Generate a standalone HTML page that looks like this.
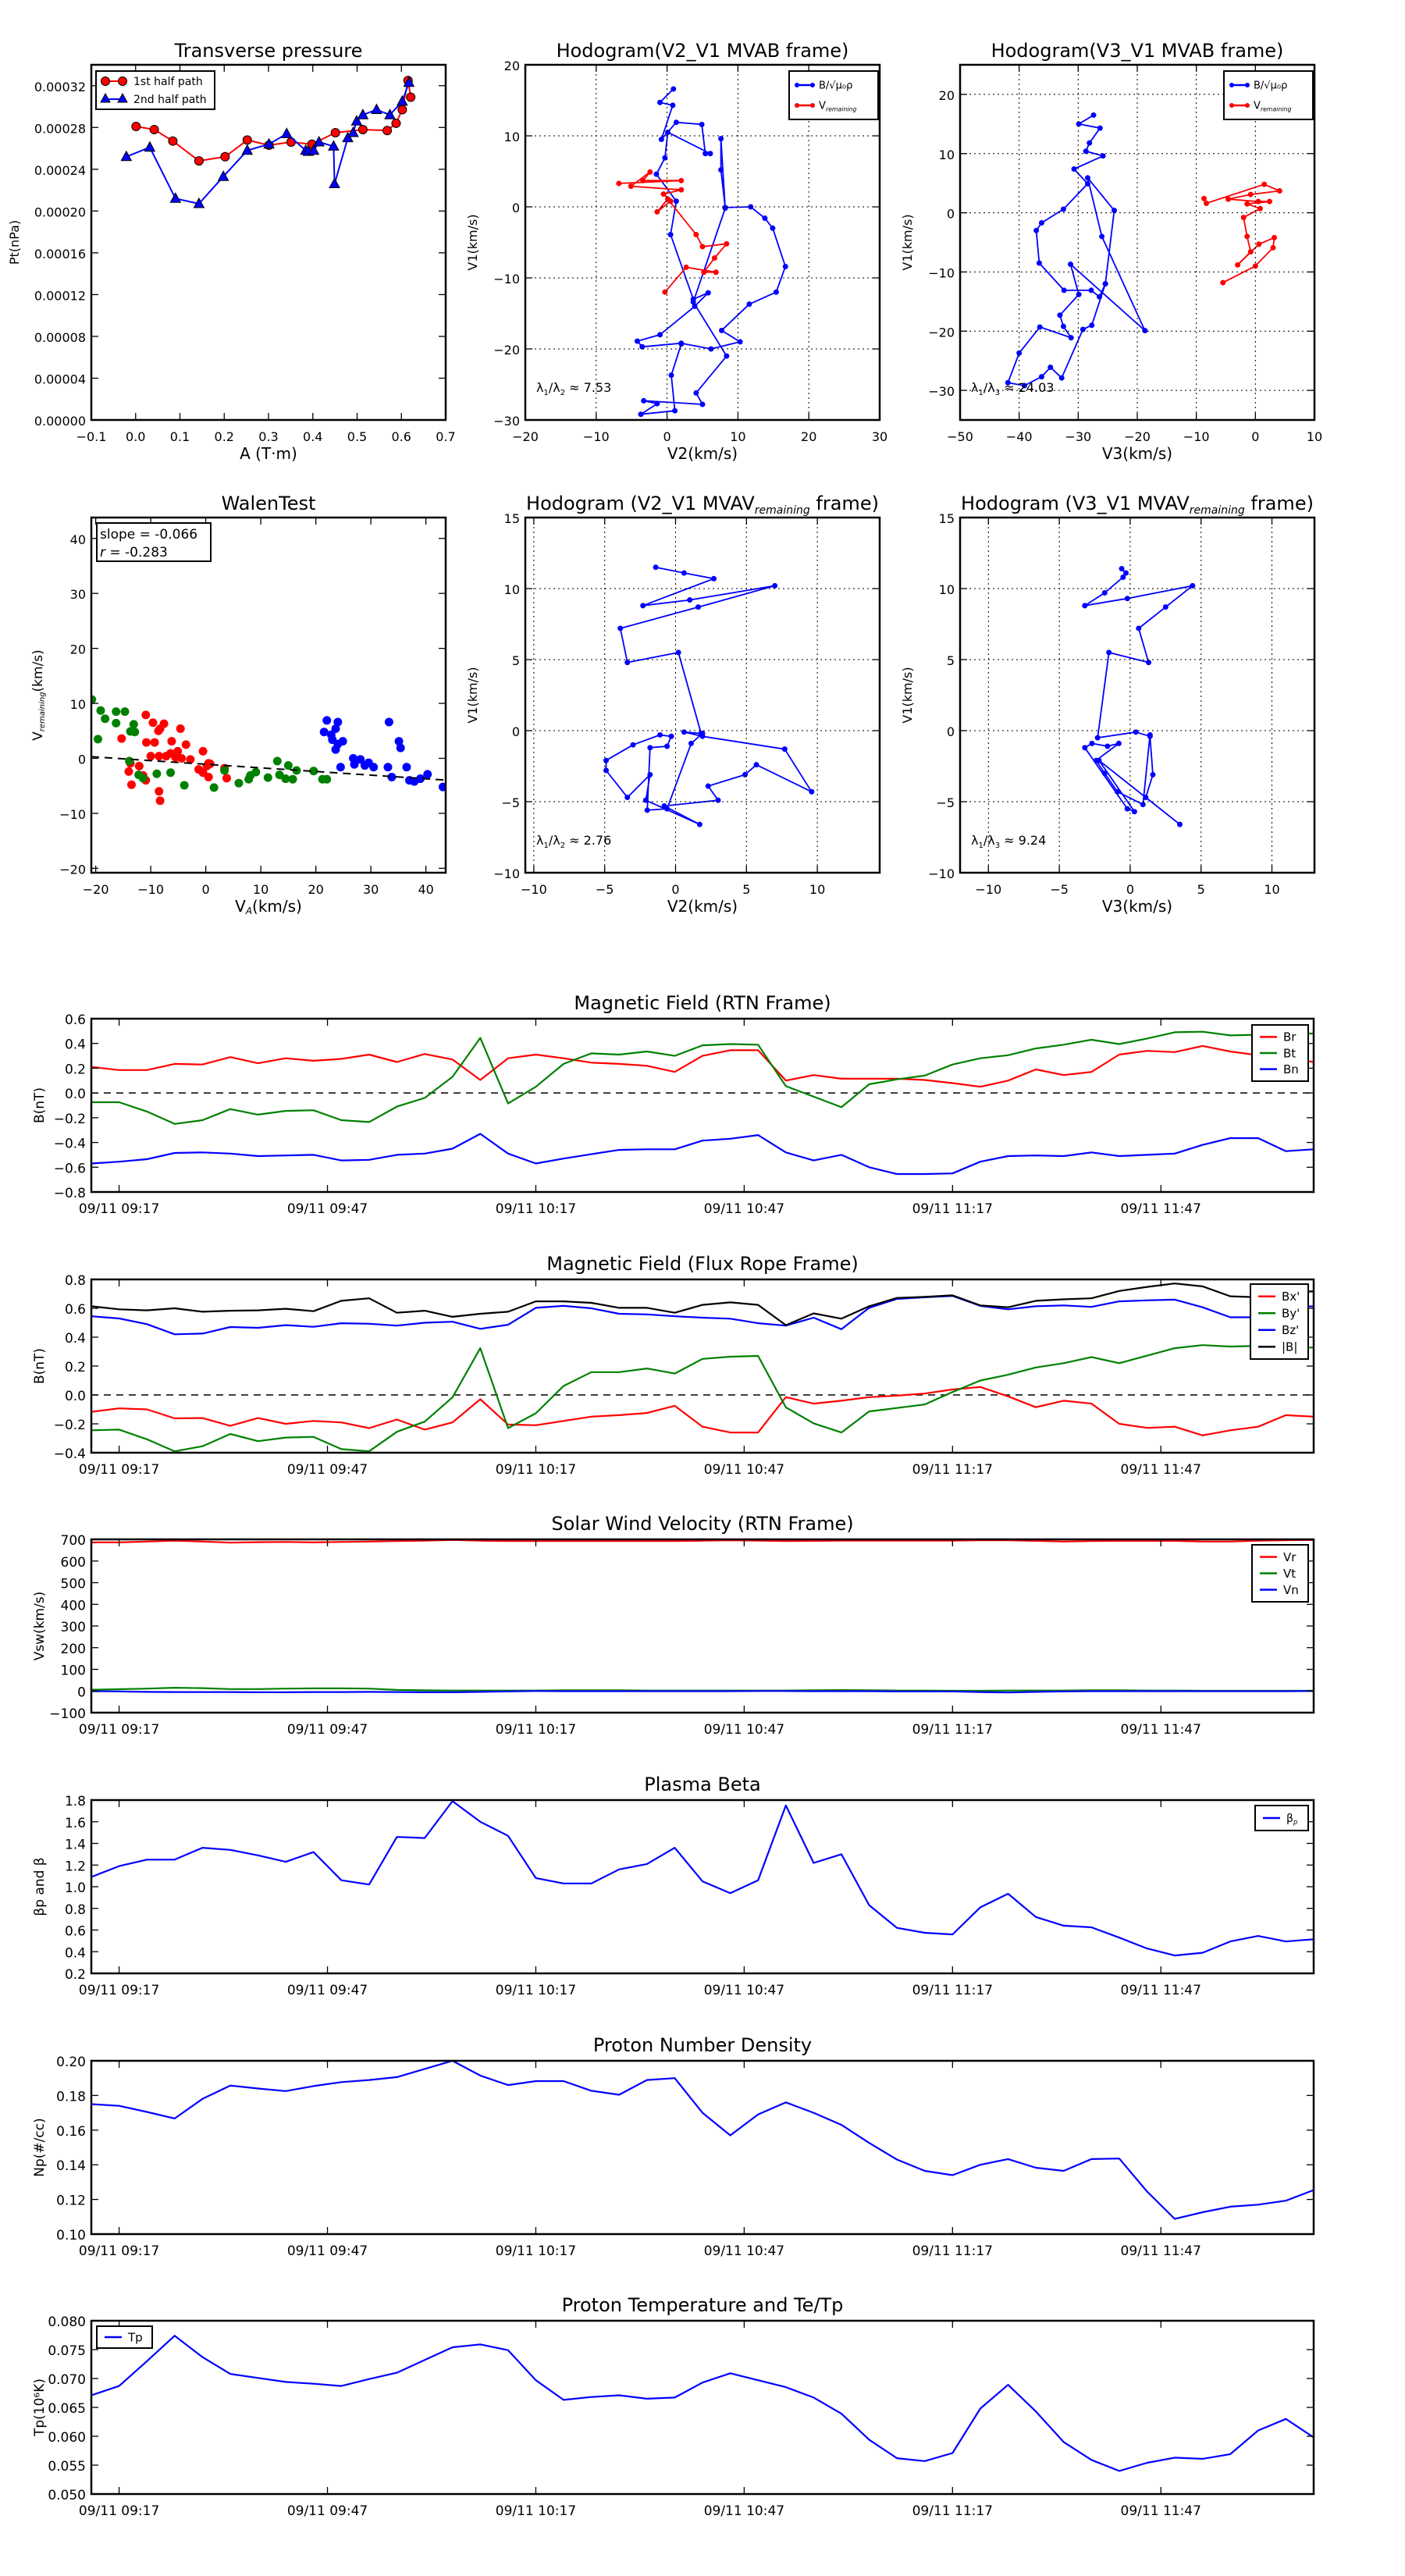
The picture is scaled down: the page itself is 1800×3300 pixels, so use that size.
<!DOCTYPE html>
<html><head><meta charset="utf-8"><title>Flux rope analysis</title>
<style>
html,body{margin:0;padding:0;background:#fff;}
svg{display:block;font-family:"DejaVu Sans","Liberation Sans",sans-serif;}
</style></head>
<body>
<svg id="fig" width="1800" height="3300" viewBox="0 0 1800 3300" xmlns="http://www.w3.org/2000/svg">
<rect x="0" y="0" width="1800" height="3300" fill="#fff"/>
</svg>
<script>
// ---------- data ----------
const timeMin = [0,4,8,12,16,20,24,28,32,36,40,44,48,52,56,60,64,68,72,76,80,84,88,92,96,100,104,108,112,116,120,124,128,132,136,140,144,148,152,156,160,164,168,172,176];
const timeTickMin = [4,34,64,94,124,154];
const timeTickLabels = ["09/11 09:17","09/11 09:47","09/11 10:17","09/11 10:47","09/11 11:17","09/11 11:47"];
const brVals = [0.21,0.185,0.185,0.235,0.23,0.29,0.24,0.28,0.26,0.275,0.31,0.25,0.315,0.27,0.105,0.28,0.31,0.28,0.245,0.235,0.22,0.17,0.30,0.345,0.345,0.10,0.145,0.115,0.115,0.115,0.105,0.08,0.05,0.10,0.19,0.145,0.17,0.31,0.34,0.33,0.38,0.335,0.305,0.28,0.25];
const btVals = [-0.075,-0.075,-0.15,-0.25,-0.22,-0.13,-0.175,-0.145,-0.14,-0.22,-0.235,-0.11,-0.04,0.13,0.445,-0.085,0.05,0.235,0.32,0.31,0.335,0.30,0.385,0.395,0.39,0.055,-0.03,-0.115,0.07,0.11,0.14,0.23,0.28,0.305,0.36,0.39,0.43,0.395,0.44,0.49,0.495,0.465,0.47,0.48,0.48];
const bnVals = [-0.57,-0.555,-0.535,-0.485,-0.48,-0.49,-0.51,-0.505,-0.50,-0.545,-0.54,-0.50,-0.49,-0.45,-0.33,-0.49,-0.57,-0.53,-0.495,-0.46,-0.455,-0.455,-0.385,-0.37,-0.34,-0.48,-0.545,-0.50,-0.60,-0.655,-0.655,-0.65,-0.555,-0.51,-0.505,-0.51,-0.48,-0.51,-0.50,-0.49,-0.42,-0.365,-0.365,-0.47,-0.455];
const bxVals = [-0.117,-0.093,-0.10,-0.162,-0.16,-0.214,-0.16,-0.20,-0.18,-0.19,-0.23,-0.17,-0.24,-0.19,-0.03,-0.205,-0.21,-0.18,-0.15,-0.14,-0.125,-0.075,-0.22,-0.26,-0.26,-0.015,-0.06,-0.04,-0.015,-0.005,0.01,0.038,0.055,-0.01,-0.085,-0.04,-0.06,-0.20,-0.228,-0.22,-0.28,-0.245,-0.22,-0.14,-0.15];
const byVals = [-0.245,-0.24,-0.307,-0.39,-0.355,-0.27,-0.32,-0.295,-0.29,-0.375,-0.39,-0.255,-0.185,-0.017,0.324,-0.23,-0.127,0.062,0.158,0.158,0.183,0.148,0.25,0.265,0.27,-0.086,-0.197,-0.26,-0.114,-0.09,-0.066,0.02,0.10,0.14,0.19,0.22,0.262,0.22,0.272,0.324,0.345,0.335,0.34,0.33,0.328];
const bzVals = [0.545,0.53,0.49,0.42,0.425,0.47,0.465,0.483,0.472,0.497,0.493,0.48,0.50,0.507,0.458,0.486,0.603,0.617,0.60,0.562,0.558,0.545,0.535,0.528,0.497,0.48,0.535,0.455,0.603,0.665,0.676,0.686,0.617,0.593,0.614,0.62,0.61,0.648,0.655,0.66,0.607,0.538,0.538,0.607,0.614];
const bmagVals = [0.614,0.593,0.586,0.60,0.576,0.583,0.586,0.597,0.58,0.652,0.669,0.569,0.583,0.541,0.562,0.576,0.648,0.648,0.638,0.603,0.603,0.569,0.624,0.641,0.624,0.483,0.565,0.528,0.614,0.672,0.679,0.69,0.62,0.607,0.652,0.662,0.669,0.72,0.748,0.772,0.752,0.683,0.676,0.714,0.717];
const vrVals = [686,686,690,694,690,685,687,688,686,688,690,692,694,697,694,692,692,692,692,692,692,692,694,696,694,692,693,694,694,694,694,694,696,696,693,690,692,693,693,693,690,690,694,696,697];
const vtVals = [6,8,11,15,13,9,9,11,12,12,11,5,3,2,2,2,2,3,3,3,2,2,2,2,2,2,3,4,3,2,2,1,1,2,2,2,3,3,2,2,1,1,1,1,1];
const vnVals = [-1,-2,-4,-5,-5,-5,-6,-6,-5,-5,-4,-5,-6,-6,-4,-2,0,-1,-1,-1,-1,-1,-1,-1,0,0,-1,-1,-1,-2,-2,-2,-5,-7,-4,-2,-1,-1,-1,-1,-1,-1,-1,-1,0];
const betaVals = [1.09,1.19,1.25,1.25,1.36,1.34,1.29,1.23,1.32,1.06,1.02,1.46,1.45,1.79,1.60,1.47,1.08,1.03,1.03,1.16,1.21,1.36,1.05,0.94,1.06,1.75,1.22,1.30,0.83,0.62,0.575,0.56,0.81,0.935,0.72,0.64,0.625,0.53,0.43,0.365,0.39,0.495,0.545,0.495,0.515];
const npVals = [0.175,0.174,0.1705,0.1667,0.178,0.1857,0.184,0.1825,0.1854,0.1877,0.1889,0.1906,0.1953,0.200,0.1915,0.186,0.1883,0.1883,0.1827,0.1804,0.1889,0.190,0.170,0.157,0.169,0.176,0.170,0.163,0.1526,0.143,0.1365,0.134,0.140,0.1433,0.1383,0.1365,0.1433,0.1436,0.1246,0.1088,0.1126,0.1158,0.117,0.1193,0.1254];
const tpVals = [0.0671,0.0687,0.073,0.0774,0.0737,0.0708,0.0701,0.0694,0.0691,0.0687,0.0699,0.071,0.0732,0.0754,0.0759,0.0749,0.0697,0.0663,0.0668,0.0671,0.0665,0.0667,0.0693,0.0709,0.0697,0.0685,0.0667,0.0639,0.0594,0.0562,0.0557,0.0571,0.0648,0.0689,0.0643,0.059,0.0559,0.054,0.0554,0.0563,0.0561,0.0569,0.061,0.063,0.0598];

// transverse pressure
const pt1A = [0.001,0.042,0.084,0.143,0.202,0.252,0.301,0.351,0.398,0.451,0.513,0.568,0.588,0.602,0.615,0.621];
const pt1P = [0.000281,0.000278,0.000267,0.000248,0.000252,0.000268,0.000263,0.000266,0.000264,0.000275,0.000278,0.000277,0.000284,0.000297,0.000325,0.000309];
const pt2A = [-0.021,0.032,0.090,0.143,0.198,0.252,0.301,0.341,0.384,0.390,0.402,0.414,0.447,0.449,0.479,0.491,0.499,0.513,0.544,0.574,0.602,0.617];
const pt2P = [0.000252,0.000261,0.000212,0.000207,0.000233,0.000258,0.000264,0.000274,0.000258,0.000257,0.000258,0.000266,0.000262,0.000226,0.000270,0.000275,0.000286,0.000292,0.000297,0.000292,0.000305,0.000323];
const ptXTicks = [-0.1,0,0.1,0.2,0.3,0.4,0.5,0.6,0.7];
const ptXLabels = ["\u22120.1","0.0","0.1","0.2","0.3","0.4","0.5","0.6","0.7"];
const ptYTicks = [0,0.00004,0.00008,0.00012,0.00016,0.0002,0.00024,0.00028,0.00032];
const ptYLabels = ["0.00000","0.00004","0.00008","0.00012","0.00016","0.00020","0.00024","0.00028","0.00032"];

// hodogram V2_V1 MVAB
const h1BlueX = [0.9,-1.0,0.8,-0.8,1.3,4.9,5.4,6.1,0.1,-0.3,-1.5,1.3,0.5,3.7,5.8,3.9,-1.0,-4.2,-3.5,2.0,6.2,10.3,7.7,11.6,15.4,16.7,14.9,13.8,11.8,8.2,7.6,7.6,8.2,3.7,8.4,4.1,5.0,-3.3,-1.4,-3.7,1.1,0.6,2.0];
const h1BlueY = [16.6,14.7,14.3,9.5,11.9,11.6,7.5,7.5,10.5,6.9,4.6,0.8,-3.9,-13.0,-12.1,-14.0,-18.0,-18.9,-19.7,-19.2,-20.0,-19.0,-17.4,-13.7,-12.0,-8.4,-3.0,-1.6,0.0,-0.1,5.2,9.6,-0.2,-13.4,-21.0,-26.2,-27.8,-27.3,-27.7,-29.2,-28.7,-23.7,-19.3];
const h1RedX = [-6.8,2.0,-3.4,-2.4,-5.1,2.0,-0.5,0.5,-1.4,0.1,4.1,5.0,8.4,6.7,5.2,6.9,2.7,-0.3];
const h1RedY = [3.3,3.7,3.7,4.9,2.9,2.4,1.8,0.8,-0.7,1.1,-3.9,-5.6,-5.2,-7.2,-9.2,-9.2,-8.5,-12.0];
// hodogram V3_V1 MVAB
const h2BlueX = [-27.4,-29.9,-26.3,-28.1,-28.7,-25.8,-30.7,-28.4,-32.5,-36.2,-37.1,-36.6,-32.4,-27.8,-26.4,-25.4,-23.9,-28.4,-26.0,-18.7,-31.3,-29.9,-33.1,-32.5,-31.2,-36.5,-40.0,-41.9,-39.1,-36.2,-34.7,-32.8,-29.2,-27.7,-25.4];
const h2BlueY = [16.5,15.0,14.3,11.8,10.4,9.6,7.4,4.9,0.6,-1.7,-3.0,-8.5,-13.1,-13.1,-14.2,-12.0,0.4,5.9,-4.0,-19.9,-8.7,-13.8,-17.3,-19.2,-21.1,-19.3,-23.7,-28.7,-29.2,-27.7,-26.1,-27.9,-19.7,-19.0,-12.0];
const h2RedX = [-8.7,-8.3,1.5,4.1,-0.8,-4.6,0.5,2.4,-1.4,0.8,-2.0,-1.4,-0.8,-3.0,0.6,3.2,3.0,0.0,-5.5];
const h2RedY = [2.4,1.6,4.8,3.7,3.1,2.3,1.9,1.9,1.5,0.7,-0.8,-4.0,-6.6,-8.8,-5.3,-4.2,-5.9,-9.0,-11.8];
// hodogram V2_V1 MVAV
const h3X = [-1.4,0.6,2.7,-2.3,1.0,7.0,1.6,-3.9,-3.4,0.2,1.8,0.6,1.9,7.7,9.6,5.7,4.9,2.3,3.0,-0.8,1.7,-2.1,-1.8,-3.4,-4.9,-4.9,-3.0,-1.1,-0.3,-0.6,-1.8,-2.0,-0.6,1.1,1.9];
const h3Y = [11.5,11.1,10.7,8.8,9.2,10.2,8.7,7.2,4.8,5.5,-0.2,-0.1,-0.4,-1.3,-4.3,-2.4,-3.1,-3.9,-4.9,-5.3,-6.6,-4.9,-3.1,-4.7,-2.8,-2.1,-1.0,-0.3,-0.4,-1.1,-1.2,-5.6,-5.5,-0.9,-0.2];
// hodogram V3_V1 MVAV
const h4X = [-0.6,-0.3,-0.5,-1.8,-3.2,-0.2,4.4,2.5,0.6,1.3,-1.5,-2.3,0.4,1.4,1.6,1.1,3.5,-2.2,0.3,-0.2,-3.2,-2.7,-1.6,-0.8,-2.4,-1.8,-0.9,0.9,1.4];
const h4Y = [11.4,11.1,10.8,9.7,8.8,9.3,10.2,8.7,7.2,4.8,5.5,-0.5,-0.1,-0.4,-3.1,-4.7,-6.6,-2.1,-5.7,-5.5,-1.2,-0.9,-1.1,-0.9,-2.1,-3.0,-4.3,-5.2,-0.3];

// Walen test
const walRedX = [-10.9,-9.6,-7.6,-8.6,-8.3,-4.6,-15.3,-10.8,-9.3,-6.2,-5.1,-3.6,-0.5,-13.7,-12.1,-10.0,-8.5,-7.2,-6.4,-5.5,-4.4,-2.8,0.2,0.8,-1.3,-0.5,3.4,-14.0,-11.4,-10.9,-13.5,3.8,0.5,-8.5,-8.3,0.5];
const walRedY = [7.9,6.5,6.3,5.0,5.4,5.4,3.6,2.9,2.9,3.1,1.3,2.5,1.3,-0.9,-1.4,0.4,0.4,0.4,0.9,0.2,0.0,-0.2,-1.4,-1.0,-2.0,-2.6,-1.8,-2.4,-3.1,-4.0,-4.8,-3.6,-3.4,-6.0,-7.7,-0.9];
const walGreenX = [-20.7,-19.1,-16.3,-14.7,-18.3,-16.3,-13.1,-13.7,-12.9,-19.6,-13.9,-12.2,-11.4,-8.9,-6.4,-3.9,1.5,3.4,6.0,7.8,9.1,11.3,13.4,14.5,13.0,15.0,16.5,15.8,19.6,21.2,22.0,8.1];
const walGreenY = [10.7,8.7,8.5,8.5,7.2,6.4,6.2,4.9,4.8,3.5,-0.5,-3.0,-3.6,-2.8,-2.6,-4.9,-5.3,-2.2,-4.5,-3.8,-2.5,-3.5,-3.0,-3.7,-0.5,-1.3,-2.2,-3.8,-2.3,-3.8,-3.8,-3.1];
const walBlueX = [22.0,24.0,21.5,22.8,23.6,23.0,24.0,24.9,23.6,24.5,26.8,28.1,29.6,28.9,30.5,33.3,35.1,35.4,33.1,36.5,33.8,37.0,37.9,39.0,40.3,43.1,27.0];
const walBlueY = [6.9,6.6,4.8,4.3,5.4,3.4,2.6,3.1,1.6,-1.6,0.0,-0.2,-0.8,-1.3,-1.6,6.6,3.1,1.9,-1.6,-1.6,-3.4,-4.0,-4.2,-3.7,-2.9,-5.2,-1.1];
const walFit = [-0.066, -1.07];
const walXTicks = [-20,-10,0,10,20,30,40];
const walYTicks = [-20,-10,0,10,20,30,40];

// ---------- helpers ----------
const NS = 'http://www.w3.org/2000/svg';
const svg = document.getElementById('fig');
function mk(tag, attrs, parent, text) {
  const e = document.createElementNS(NS, tag);
  for (const k in attrs) e.setAttribute(k, attrs[k]);
  if (text != null) e.textContent = text;
  parent.appendChild(e);
  return e;
}
function lin(d0, d1, p0, p1) { return v => p0 + (v - d0) / (d1 - d0) * (p1 - p0); }
function fmtNum(v) { return String(v).replace('-', '\u2212'); }

function makeAxes(name, x0, y0, w, h, xmin, xmax, ymin, ymax) {
  const g = mk('g', {}, svg);
  
  
  const clipId = 'clip-' + name;
  const cp = mk('clipPath', {id: clipId}, g);
  mk('rect', {x: x0, y: y0, width: w, height: h}, cp);
  const plot = mk('g', {'clip-path': 'url(#' + clipId + ')'}, g);
  return {g, plot, x0, y0, w, h, sx: lin(xmin, xmax, x0, x0 + w), sy: lin(ymin, ymax, y0 + h, y0)};
}
function frameBox(ax) {
  const r = mk('rect', {x: ax.x0, y: ax.y0, width: ax.w, height: ax.h, fill: 'none', stroke: '#000', 'stroke-width': 2.5}, ax.g);
  
  
}
function xTicks(ax, vals, labels, fs, grid) {
  vals.forEach((v, i) => {
    const x = ax.sx(v);
    if (grid) {
      const gl = mk('line', {x1: x, x2: x, y1: ax.y0, y2: ax.y0 + ax.h, stroke: '#000', 'stroke-width': 1, 'stroke-dasharray': '2,4'}, ax.g);
      
      
    }
    mk('line', {x1: x, x2: x, y1: ax.y0 + ax.h, y2: ax.y0 + ax.h - 9, stroke: '#000', 'stroke-width': 1.3}, ax.g);
    mk('line', {x1: x, x2: x, y1: ax.y0, y2: ax.y0 + 9, stroke: '#000', 'stroke-width': 1.3}, ax.g);
    const t = mk('text', {x: x, y: ax.y0 + ax.h + 27, 'font-size': fs, 'text-anchor': 'middle'}, ax.g, labels[i]);
    
    
  });
}
function yTicks(ax, vals, labels, fs, grid) {
  vals.forEach((v, i) => {
    const y = ax.sy(v);
    if (grid) {
      const gl = mk('line', {x1: ax.x0, x2: ax.x0 + ax.w, y1: y, y2: y, stroke: '#000', 'stroke-width': 1, 'stroke-dasharray': '2,4'}, ax.g);
      
      
    }
    mk('line', {x1: ax.x0, x2: ax.x0 + 9, y1: y, y2: y, stroke: '#000', 'stroke-width': 1.3}, ax.g);
    mk('line', {x1: ax.x0 + ax.w, x2: ax.x0 + ax.w - 9, y1: y, y2: y, stroke: '#000', 'stroke-width': 1.3}, ax.g);
    const t = mk('text', {x: ax.x0 - 7, y: y + 7, 'font-size': fs, 'text-anchor': 'end'}, ax.g, labels[i]);
    
    
  });
}
function title(ax, txt, y) {
  const t = mk('text', {x: ax.x0 + ax.w / 2, y: y, 'font-size': 24, 'text-anchor': 'middle'}, ax.g, txt);
  
  
  return t;
}
function yLabel(ax, txt, x, fs) {
  const cy = ax.y0 + ax.h / 2;
  const t = mk('text', {x: x, y: cy, 'font-size': fs || 18, 'text-anchor': 'middle', transform: 'rotate(-90 ' + x + ' ' + cy + ')'}, ax.g, txt);
  
  
  return t;
}
function xLabel(ax, txt, y) {
  const t = mk('text', {x: ax.x0 + ax.w / 2, y: y, 'font-size': 20, 'text-anchor': 'middle'}, ax.g, txt);
  
  
  return t;
}
function polyline(ax, xs, ys, color, name, width) {
  const pts = xs.map((x, i) => ax.sx(x).toFixed(1) + ',' + ax.sy(ys[i]).toFixed(1)).join(' ');
  const p = mk('polyline', {points: pts, fill: 'none', stroke: color, 'stroke-width': width || 2, 'stroke-linejoin': 'round'}, ax.plot);
  
  
}
function dots(ax, xs, ys, color, name, r) {
  xs.forEach((x, i) => {
    const c = mk('circle', {cx: ax.sx(x), cy: ax.sy(ys[i]), r: r, fill: color, stroke: r > 4 ? 'none' : color}, ax.plot);
    
    
  });
}
function legendBox(ax, x, y, w, h, entries, fs, lineLen) {
  const g = mk('g', {}, ax.g);
  
  
  mk('rect', {x: x, y: y, width: w, height: h, fill: '#fff', stroke: '#000', 'stroke-width': 2}, g);
  const step = (h - 10) / entries.length;
  entries.forEach((e, i) => {
    const cy = y + 5 + step * (i + 0.5);
    const eg = mk('g', {}, g);
    
    
    mk('line', {x1: x + 10, x2: x + 10 + lineLen, y1: cy, y2: cy, stroke: e.color, 'stroke-width': 2.5}, eg);
    if (e.marker === 'dot') {
      mk('circle', {cx: x + 10, cy: cy, r: 3, fill: e.color}, eg);
      mk('circle', {cx: x + 10 + lineLen, cy: cy, r: 3, fill: e.color}, eg);
    }
    const t = mk('text', {x: x + 18 + lineLen, y: cy + fs * 0.35, 'font-size': fs}, eg, e.label);
    if (e.sub) mk('tspan', {'font-size': fs * 0.6, 'font-style': 'italic', dy: 3}, t, e.sub);
  });
  return g;
}

// ---------- time series panels ----------
const TX0 = 117, TW = 1566, TH = 222;
function timePanel(name, top, ymin, ymax, yt, ylab, ttl, ylabelTxt, series, zero, legend) {
  const ax = makeAxes(name, TX0, top, TW, TH, 0, 176, ymin, ymax);
  if (zero) {
    const z = mk('line', {x1: TX0, x2: TX0 + TW, y1: ax.sy(0), y2: ax.sy(0), stroke: '#000', 'stroke-width': 1.5, 'stroke-dasharray': '9,7'}, ax.plot);
    
    
  }
  series.forEach(s => polyline(ax, timeMin, s.vals, s.color, s.name, 2.2));
  frameBox(ax);
  xTicks(ax, timeTickMin, timeTickLabels, 17, false);
  yTicks(ax, yt, ylab, 17, false);
  title(ax, ttl, top - 12);
  yLabel(ax, ylabelTxt, 56, 17);
  if (legend) legend(ax);
  return ax;
}
timePanel('magnetic-field-rtn-chart', 1305, -0.8, 0.6, [-0.8,-0.6,-0.4,-0.2,0,0.2,0.4,0.6],
  ["\u22120.8","\u22120.6","\u22120.4","\u22120.2","0.0","0.2","0.4","0.6"], 'Magnetic Field (RTN Frame)', 'B(nT)',
  [{vals: brVals, color: '#ff0000', name: 'br-line'}, {vals: btVals, color: '#008000', name: 'bt-line'}, {vals: bnVals, color: '#0000ff', name: 'bn-line'}], true,
  ax => legendBox(ax, 1604, 1313, 72, 72, [{key:'br',label:'Br',color:'#ff0000'},{key:'bt',label:'Bt',color:'#008000'},{key:'bn',label:'Bn',color:'#0000ff'}], 15, 22));
timePanel('magnetic-field-flux-rope-chart', 1639, -0.4, 0.8, [-0.4,-0.2,0,0.2,0.4,0.6,0.8],
  ["\u22120.4","\u22120.2","0.0","0.2","0.4","0.6","0.8"], 'Magnetic Field (Flux Rope Frame)', 'B(nT)',
  [{vals: bxVals, color: '#ff0000', name: 'bx-line'}, {vals: byVals, color: '#008000', name: 'by-line'}, {vals: bzVals, color: '#0000ff', name: 'bz-line'}, {vals: bmagVals, color: '#000000', name: 'bmag-line'}], true,
  ax => legendBox(ax, 1602, 1645, 74, 96, [{key:'bx',label:"Bx'",color:'#ff0000'},{key:'by',label:"By'",color:'#008000'},{key:'bz',label:"Bz'",color:'#0000ff'},{key:'bmag',label:'|B|',color:'#000'}], 15, 22));
timePanel('solar-wind-velocity-chart', 1972, -100, 700, [-100,0,100,200,300,400,500,600,700],
  ["\u2212100","0","100","200","300","400","500","600","700"], 'Solar Wind Velocity (RTN Frame)', 'Vsw(km/s)',
  [{vals: vrVals, color: '#ff0000', name: 'vr-line'}, {vals: vtVals, color: '#008000', name: 'vt-line'}, {vals: vnVals, color: '#0000ff', name: 'vn-line'}], false,
  ax => legendBox(ax, 1604, 1979, 72, 73, [{key:'vr',label:'Vr',color:'#ff0000'},{key:'vt',label:'Vt',color:'#008000'},{key:'vn',label:'Vn',color:'#0000ff'}], 15, 22));
timePanel('plasma-beta-chart', 2306, 0.2, 1.8, [0.2,0.4,0.6,0.8,1.0,1.2,1.4,1.6,1.8],
  ["0.2","0.4","0.6","0.8","1.0","1.2","1.4","1.6","1.8"], 'Plasma Beta', '\u03B2p and \u03B2',
  [{vals: betaVals, color: '#0000ff', name: 'beta-line'}], false,
  ax => legendBox(ax, 1608, 2313, 68, 32, [{key:'beta',label:'\u03B2',sub:'p',color:'#0000ff'}], 14, 22));
timePanel('proton-density-chart', 2640, 0.10, 0.20, [0.10,0.12,0.14,0.16,0.18,0.20],
  ["0.10","0.12","0.14","0.16","0.18","0.20"], 'Proton Number Density', 'Np(#/cc)',
  [{vals: npVals, color: '#0000ff', name: 'np-line'}], false, null);
const tAx = timePanel('proton-temperature-chart', 2973, 0.050, 0.080, [0.050,0.055,0.060,0.065,0.070,0.075,0.080],
  ["0.050","0.055","0.060","0.065","0.070","0.075","0.080"], 'Proton Temperature and Te/Tp', 'Tp(10\u2076K)',
  [{vals: tpVals, color: '#0000ff', name: 'tp-line'}], false,
  ax => legendBox(ax, 124, 2980, 71, 28, [{key:'tp',label:'Tp',color:'#0000ff'}], 15, 22));

// ---------- top row ----------
const R1Y = 83, RH = 455, R2Y = 663;
const C1 = 117, C2 = 673, C3 = 1230, CW = 454;

// transverse pressure
const tpAx = makeAxes('transverse-pressure-chart', C1, R1Y, CW, RH, -0.1, 0.7, 0, 0.00034);
polyline(tpAx, pt1A, pt1P, '#ff0000', 'first-half-path-line', 2);
pt1A.forEach((a, i) => {
  const c = mk('circle', {cx: tpAx.sx(a), cy: tpAx.sy(pt1P[i]), r: 5.5, fill: '#ff0000', stroke: '#000', 'stroke-width': 1}, tpAx.plot);
  
  
});
polyline(tpAx, pt2A, pt2P, '#0000ff', 'second-half-path-line', 2);
pt2A.forEach((a, i) => {
  const x = tpAx.sx(a), y = tpAx.sy(pt2P[i]);
  const t = mk('polygon', {points: (x) + ',' + (y - 7) + ' ' + (x - 6.5) + ',' + (y + 5) + ' ' + (x + 6.5) + ',' + (y + 5), fill: '#0000ff', stroke: '#000', 'stroke-width': 1}, tpAx.plot);
  
  
});
frameBox(tpAx);
xTicks(tpAx, ptXTicks, ptXLabels, 16, false);
yTicks(tpAx, ptYTicks, ptYLabels, 16, false);
title(tpAx, 'Transverse pressure', 73);
yLabel(tpAx, 'Pt(nPa)', 24, 16);
xLabel(tpAx, 'A (T\u00B7m)', 588);
{
  const lg = mk('g', {}, tpAx.g);
  
  
  mk('rect', {x: 123, y: 91, width: 152, height: 49, fill: '#fff', stroke: '#000', 'stroke-width': 2}, lg);
  mk('line', {x1: 135, x2: 157, y1: 104, y2: 104, stroke: '#ff0000', 'stroke-width': 2}, lg);
  mk('circle', {cx: 135, cy: 104, r: 5.5, fill: '#ff0000', stroke: '#000'}, lg);
  mk('circle', {cx: 157, cy: 104, r: 5.5, fill: '#ff0000', stroke: '#000'}, lg);
  mk('text', {x: 171, y: 109, 'font-size': 14}, lg, '1st half path');
  mk('line', {x1: 135, x2: 157, y1: 127, y2: 127, stroke: '#0000ff', 'stroke-width': 2}, lg);
  mk('polygon', {points: '135,120 129,131 141,131', fill: '#0000ff', stroke: '#000'}, lg);
  mk('polygon', {points: '157,120 151,131 163,131', fill: '#0000ff', stroke: '#000'}, lg);
  mk('text', {x: 171, y: 132, 'font-size': 14}, lg, '2nd half path');
}

function hodo(name, x0, y0, xmin, xmax, ymin, ymax, xt, yt, ttl, xlab, blueX, blueY, redX, redY, ratioSub, ratioVal, withLegend, ttlSub) {
  const ax = makeAxes(name, x0, y0, CW, RH, xmin, xmax, ymin, ymax);
  polyline(ax, blueX, blueY, '#0000ff', 'b-hodogram-line', 1.8);
  dots(ax, blueX, blueY, '#0000ff', 'b-hodogram-point', 3);
  if (redX) {
    polyline(ax, redX, redY, '#ff0000', 'v-hodogram-line', 1.8);
    dots(ax, redX, redY, '#ff0000', 'v-hodogram-point', 3);
  }
  frameBox(ax);
  xTicks(ax, xt, xt.map(fmtNum), 16, true);
  yTicks(ax, yt, yt.map(fmtNum), 16, true);
  const t = title(ax, ttl, y0 - 10);
  if (ttlSub) {
    t.textContent = ttl;
    mk('tspan', {'font-size': 14, 'font-style': 'italic', dy: 5}, t, ttlSub);
    mk('tspan', {dy: -5}, t, ' frame)');
  }
  yLabel(ax, 'V1(km/s)', x0 - 62, 16);
  xLabel(ax, xlab, y0 + RH + 50);
  const an = mk('text', {x: x0 + 14, y: y0 + RH - 36, 'font-size': 16}, ax.g, '\u03BB');
  
  
  mk('tspan', {'font-size': 10, dy: 4}, an, '1');
  mk('tspan', {dy: -4}, an, '/\u03BB');
  mk('tspan', {'font-size': 10, dy: 4}, an, ratioSub);
  mk('tspan', {dy: -4}, an, ' \u2248 ' + ratioVal);
  if (withLegend) {
    legendBox(ax, x0 + CW - 116, y0 + 8, 114, 62, [
      {key: 'b', label: 'B/\u221A\u03BC\u2080\u03C1', color: '#0000ff', marker: 'dot'},
      {key: 'v', label: 'V', sub: 'remaining', color: '#ff0000', marker: 'dot'}], 13, 20);
  }
  return ax;
}
hodo('hodogram-v2-v1-mvab-chart', C2, R1Y, -20, 30, -30, 20, [-20,-10,0,10,20,30], [-30,-20,-10,0,10,20],
  'Hodogram(V2_V1 MVAB frame)', 'V2(km/s)', h1BlueX, h1BlueY, h1RedX, h1RedY, '2', '7.53', true);
hodo('hodogram-v3-v1-mvab-chart', C3, R1Y, -50, 10, -35, 25, [-50,-40,-30,-20,-10,0,10], [-30,-20,-10,0,10,20],
  'Hodogram(V3_V1 MVAB frame)', 'V3(km/s)', h2BlueX, h2BlueY, h2RedX, h2RedY, '3', '24.03', true);
hodo('hodogram-v2-v1-mvav-chart', C2, R2Y, -10.6, 14.4, -10, 15, [-10,-5,0,5,10], [-10,-5,0,5,10,15],
  'Hodogram (V2_V1 MVAV', 'V2(km/s)', h3X, h3Y, null, null, '2', '2.76', false, 'remaining');
hodo('hodogram-v3-v1-mvav-chart', C3, R2Y, -12, 13, -10, 15, [-10,-5,0,5,10], [-10,-5,0,5,10,15],
  'Hodogram (V3_V1 MVAV', 'V3(km/s)', h4X, h4Y, null, null, '3', '9.24', false, 'remaining');

// Walen test
const wAx = makeAxes('walen-test-chart', C1, R2Y, CW, RH, -20.8, 43.6, -20.8, 43.8);
dots(wAx, walRedX, walRedY, '#ff0000', 'walen-red-point', 5.5);
dots(wAx, walGreenX, walGreenY, '#008000', 'walen-green-point', 5.5);
dots(wAx, walBlueX, walBlueY, '#0000ff', 'walen-blue-point', 5.5);
{
  const fx = [-20.8, 43.6];
  const fy = fx.map(x => walFit[0] * x + walFit[1]);
  const fl = mk('line', {x1: wAx.sx(fx[0]), y1: wAx.sy(fy[0]), x2: wAx.sx(fx[1]), y2: wAx.sy(fy[1]), stroke: '#000', 'stroke-width': 2, 'stroke-dasharray': '10,7'}, wAx.plot);
  
  
}
frameBox(wAx);
xTicks(wAx, walXTicks, walXTicks.map(fmtNum), 16, false);
yTicks(wAx, walYTicks, walYTicks.map(fmtNum), 16, false);
title(wAx, 'WalenTest', R2Y - 10);
{
  const yl = yLabel(wAx, 'V', 54, 17);
  mk('tspan', {'font-size': 10, 'font-style': 'italic', dy: 3}, yl, 'remaining');
  mk('tspan', {dy: -3}, yl, '(km/s)');
  const xl = xLabel(wAx, 'V', R2Y + RH + 50);
  mk('tspan', {'font-size': 12, 'font-style': 'italic', dy: 3}, xl, 'A');
  mk('tspan', {dy: -3}, xl, '(km/s)');
  const bx = mk('g', {}, wAx.g);
  
  
  mk('rect', {x: 124, y: 670, width: 146, height: 49, fill: '#fff', stroke: '#000', 'stroke-width': 2}, bx);
  mk('text', {x: 128, y: 690, 'font-size': 17}, bx, 'slope = -0.066');
  const r2 = mk('text', {x: 128, y: 713, 'font-size': 17}, bx, '');
  mk('tspan', {'font-style': 'italic'}, r2, 'r');
  mk('tspan', {}, r2, ' = -0.283');
}
</script>
</body></html>
